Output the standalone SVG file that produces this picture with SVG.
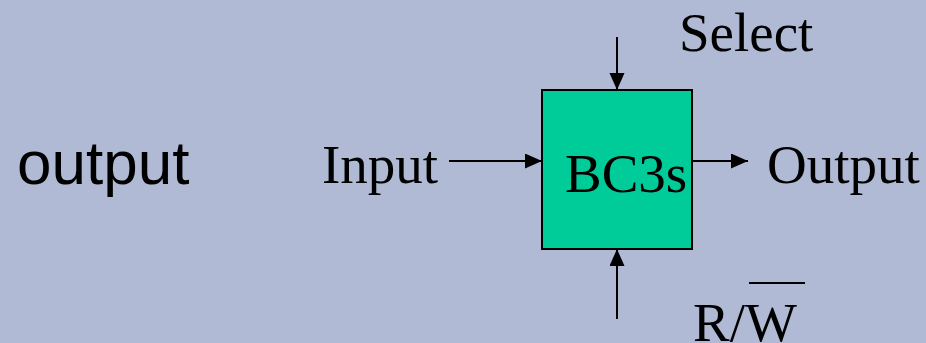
<svg xmlns="http://www.w3.org/2000/svg" width="926" height="343" viewBox="0 0 926 343">
<defs>
<style>
.serif{font-family:"Liberation Serif","Times New Roman",serif;font-size:55px;fill:#000}
.sans{font-family:"Liberation Sans",Arial,sans-serif;font-size:62px;fill:#000}
.wire{stroke:#000;stroke-width:2;fill:none}
</style>
<marker id="ah" markerUnits="userSpaceOnUse" markerWidth="18" markerHeight="16" refX="17" refY="7.5" orient="auto">
<path d="M0,0 L17,7.5 L0,15 Z" fill="#000"/>
</marker>
</defs>
<rect width="926" height="343" fill="#B0BAD4"/>
<g id="title"><text class="sans" x="17" y="184">output</text></g>
<g id="block">
<rect x="542" y="90" width="150" height="159" fill="#00CC99" stroke="#000" stroke-width="2"/>
<text class="serif" x="565" y="192">BC3s</text>
</g>
<g id="input-label"><text class="serif" x="322" y="183">Input</text></g>
<g id="output-label"><text class="serif" x="767" y="183">Output</text></g>
<g id="select-label"><text class="serif" x="679" y="51">Select</text></g>
<g id="rw-label">
<text class="serif" x="693" y="341">R/W</text>
<line x1="749" y1="283" x2="805" y2="283" stroke="#000" stroke-width="2"/>
</g>
<g id="connectors">
<line class="wire" x1="449" y1="161" x2="542" y2="161" marker-end="url(#ah)"/>
<line class="wire" x1="692" y1="161" x2="748" y2="161" marker-end="url(#ah)"/>
<line class="wire" x1="617" y1="37" x2="617" y2="90" marker-end="url(#ah)"/>
<line class="wire" x1="617" y1="319" x2="617" y2="249" marker-end="url(#ah)"/>
</g>
</svg>
